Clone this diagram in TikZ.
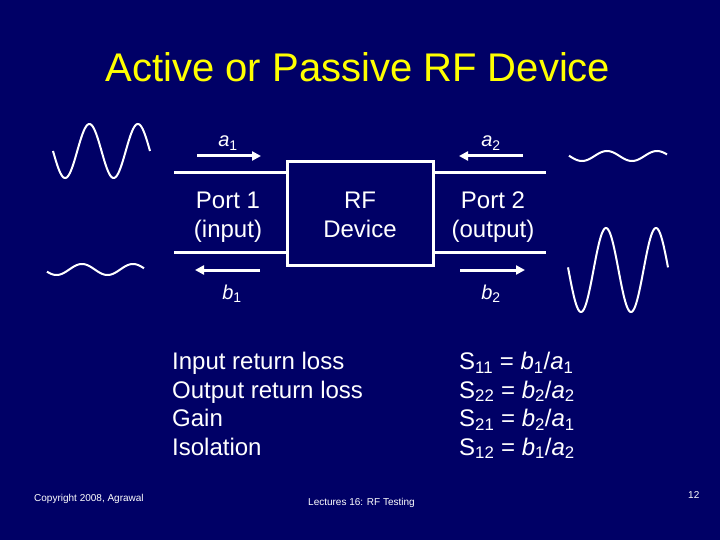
\documentclass[tikz,border=0pt]{standalone}
\usepackage{fontspec}
\setmainfont{Liberation Sans}
\usetikzlibrary{arrows.meta}
\definecolor{bgnavy}{RGB}{0,0,102}
\definecolor{titleyellow}{RGB}{255,255,0}
\begin{document}
\begin{tikzpicture}[x=1pt,y=-1pt,
  txt/.style={text=white,inner sep=0pt},
  big/.style={txt,font=\fontsize{24}{28.5}\selectfont},
  lbl/.style={txt,font=\fontsize{20}{24}\selectfont,anchor=base},
  foot/.style={txt,font=\fontsize{10}{12}\selectfont,anchor=base west},
  wire/.style={draw=white,line width=3pt},
  flow/.style={draw=white,line width=3pt,-{Triangle[length=9pt,width=9pt]}},
  wave/.style={draw=white,line width=2pt,smooth,samples=120}]
\fill[bgnavy] (0,0) rectangle (720,540);
\useasboundingbox (0,0) rectangle (720,540);
% title
\node[inner sep=0pt,text=titleyellow,font=\fontsize{40}{48}\selectfont,anchor=base] (title) at (358,82) {Active or Passive RF Device};
% device box
\node[draw=white,line width=3pt,minimum width=146pt,minimum height=103pt,inner sep=0pt] (dev) at (360,213.5) {};
\node[big,anchor=north,align=center] (devtxt) at (360,192) {RF\\Device};
% port texts
\node[big,anchor=north,align=center] (p1) at (228,192) {Port 1\\(input)};
\node[big,anchor=north,align=center] (p2) at (493,192) {Port 2\\(output)};
% transmission lines
\coordinate (l1t) at (174,173);
\coordinate (l1b) at (174,252);
\coordinate (l2t) at (546,173);
\coordinate (l2b) at (546,252);
\draw[wire] (l1t) -- (l1t -| dev.west);
\draw[wire] (l1b) -- (l1b -| dev.west);
\draw[wire] (l2t) -- (l2t -| dev.east);
\draw[wire] (l2b) -- (l2b -| dev.east);
% wave arrows
\coordinate (a1s) at (197,156); \coordinate (a1e) at (261,156);
\coordinate (a2s) at (523,156); \coordinate (a2e) at (459,156);
\coordinate (b1s) at (260,270); \coordinate (b1e) at (195,270);
\coordinate (b2s) at (460,270); \coordinate (b2e) at (525,270);
\draw[flow] (a1s) -- (a1e);
\draw[flow] (a2s) -- (a2e);
\draw[flow] (b1s) -- (b1e);
\draw[flow] (b2s) -- (b2e);
\node[lbl] (la1) at (228,147) {\textit{a}\textsubscript{1}};
\node[lbl] (la2) at (491,147) {\textit{a}\textsubscript{2}};
\node[lbl] (lb1) at (232,299) {\textit{b}\textsubscript{1}};
\node[lbl] (lb2) at (491,299) {\textit{b}\textsubscript{2}};
% waves
\draw[wave,domain=53:150] plot (\x,{151+27*sin(7.4227*(\x-53))});
\draw[wave,domain=47:144] plot (\x,{269.5-5.5*cos(7.0588*(\x-82))});
\draw[wave,domain=569:667] plot (\x,{156-5*cos(7.2*(\x-607))});
\draw[wave,domain=568:668] plot (\x,{270-42*cos(7.2*(\x-606))});
% lists
\node[big,anchor=north west,align=left] (terms) at (172,352) {Input return loss\\Output return loss\\Gain\\Isolation};
\node[big,anchor=north west,align=left] (eqs) at (459,352) {S\textsubscript{11} = \textit{b}\textsubscript{1}/\textit{a}\textsubscript{1}\\S\textsubscript{22} = \textit{b}\textsubscript{2}/\textit{a}\textsubscript{2}\\S\textsubscript{21} = \textit{b}\textsubscript{2}/\textit{a}\textsubscript{1}\\S\textsubscript{12} = \textit{b}\textsubscript{1}/\textit{a}\textsubscript{2}};
% footer
\node[foot] (copy) at (34,501) {Copyright 2008, Agrawal};
\node[foot] (lect) at (308,505) {Lectures 16: RF Testing};
\node[foot] (page) at (688,498) {12};
\end{tikzpicture}
\end{document}
